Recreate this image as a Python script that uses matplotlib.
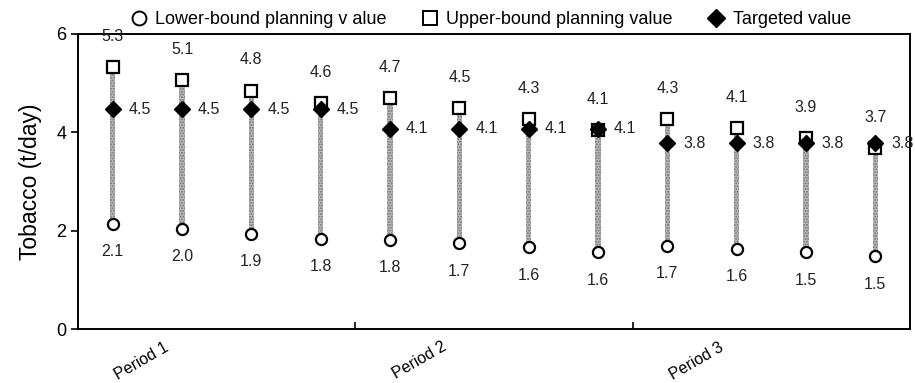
import numpy as np
import matplotlib.pyplot as plt
from matplotlib.lines import Line2D

plt.rcParams["font.family"] = ["Liberation Sans", "DejaVu Sans"]

# values (12 sub-periods, 4 per period)
upper = [5.33, 5.06, 4.85, 4.59, 4.70, 4.49, 4.27, 4.05, 4.27, 4.08, 3.88, 3.69]
target = [4.47, 4.47, 4.47, 4.47, 4.07, 4.07, 4.07, 4.07, 3.78, 3.78, 3.78, 3.78]
lower = [2.14, 2.03, 1.93, 1.84, 1.81, 1.74, 1.66, 1.56, 1.69, 1.63, 1.56, 1.48]
upper_lbl = ["5.3", "5.1", "4.8", "4.6", "4.7", "4.5", "4.3", "4.1", "4.3", "4.1", "3.9", "3.7"]
target_lbl = ["4.5"] * 4 + ["4.1"] * 4 + ["3.8"] * 4
lower_lbl = ["2.1", "2.0", "1.9", "1.8", "1.8", "1.7", "1.6", "1.6", "1.7", "1.6", "1.5", "1.5"]
periods = ["Period 1", "Period 2", "Period 3"]

x = np.arange(len(upper))

fig = plt.figure(figsize=(9.15, 3.83), dpi=100)
ax = fig.add_axes([78 / 915, 1 - 329 / 383, 832 / 915, 295 / 383])

# range bars
lo = np.array(lower)
hi = np.array(upper)
ax.bar(x, hi - lo, bottom=lo, width=0.075, color="#bdbdbd", hatch="......",
       edgecolor="#707070", linewidth=0, zorder=1)

ax.plot(x, lower, "o", ms=8, mfc="white", mec="black", mew=1.6, zorder=3)
ax.plot(x, upper, "s", ms=8, mfc="white", mec="black", mew=1.6, zorder=3)
ax.plot(x, target, "D", ms=8, color="black", zorder=4)

for i in x:
    ax.annotate(upper_lbl[i], (i, upper[i]), xytext=(0, 22), textcoords="offset points",
                ha="center", va="center", fontsize=11.5, color="#222", annotation_clip=False)
    ax.annotate(lower_lbl[i], (i, lower[i]), xytext=(0, -20), textcoords="offset points",
                ha="center", va="center", fontsize=11.5, color="#222")
    ax.annotate(target_lbl[i], (i, target[i]), xytext=(19.5, 0), textcoords="offset points",
                ha="center", va="center", fontsize=11.5, color="#222", annotation_clip=False)

ax.set_xlim(-0.5, 11.5)
ax.set_ylim(0, 6)
ax.set_yticks([0, 2, 4, 6])
ax.tick_params(axis="y", labelsize=13, length=5, width=1.2, direction="out")
ax.set_xticks([3.5, 7.5])
ax.set_xticklabels([])
ax.tick_params(axis="x", length=5, width=1.2, direction="in")
for s in ax.spines.values():
    s.set_linewidth(1.4)

for k, p in enumerate(periods):
    ax.text(0.42 + 4 * k, -0.035, p, transform=ax.get_xaxis_transform(),
            rotation=30, ha="center", va="top", fontsize=11.5)

ax.set_ylabel("Tobacco (t/day)", fontsize=16.5, labelpad=10)

handles = [
    Line2D([], [], ls="none", marker="o", ms=10, mfc="white", mec="black", mew=1.4),
    Line2D([], [], ls="none", marker="s", ms=10, mfc="white", mec="black", mew=1.4),
    Line2D([], [], ls="none", marker="D", ms=9, color="black"),
]
fig.legend(handles, ["Lower-bound planning v alue", "Upper-bound planning value", "Targeted value"],
           loc="center", bbox_to_anchor=(0.535, 1 - 20 / 383), ncol=3, frameon=False,
           fontsize=13, handletextpad=0.3, columnspacing=1.8, handlelength=1.2)

fig.savefig("out.png", dpi=100)
